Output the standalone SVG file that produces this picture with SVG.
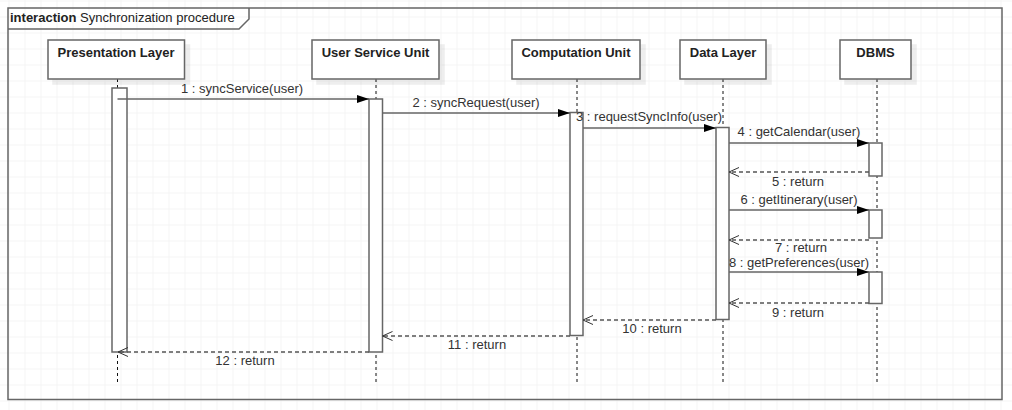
<svg xmlns="http://www.w3.org/2000/svg" width="1012" height="410" viewBox="0 0 1012 410">
<defs>
<pattern id="grid" x="8.5" y="0.5" width="16" height="16" patternUnits="userSpaceOnUse">
<path d="M0,0 H16 M0,0 V16" fill="none" stroke="#ececec" stroke-width="1"/>
</pattern>
<marker id="filled" markerUnits="userSpaceOnUse" markerWidth="14" markerHeight="10" refX="12" refY="4" orient="auto">
<path d="M0,0 L12,4 L0,8 z" fill="#000"/>
</marker>
<marker id="open" markerUnits="userSpaceOnUse" markerWidth="14" markerHeight="12" refX="11" refY="5" orient="auto">
<path d="M1,0.5 L11,5 L1,9.5" fill="none" stroke="#333" stroke-width="1"/>
</marker>
<filter id="sh" x="-10%" y="-10%" width="130%" height="140%">
<feOffset dx="5" dy="5" in="SourceAlpha"/>
<feComponentTransfer><feFuncA type="linear" slope="0.07"/></feComponentTransfer>
<feMerge><feMergeNode/><feMergeNode in="SourceGraphic"/></feMerge>
</filter>
</defs>
<style>
.hd{fill:#fff;stroke:#666;stroke-width:1.5}
.hdt{font-family:"Liberation Sans",Arial,sans-serif;font-size:13px;font-weight:bold;fill:#222;text-anchor:middle}
.life{stroke:#111;stroke-width:1;stroke-dasharray:3,3;fill:none}
.act{fill:#fff;stroke:#666;stroke-width:1.5}
.msg{stroke:#666;stroke-width:1.5;fill:none;marker-end:url(#filled)}
.ret{stroke:#555;stroke-width:1.5;stroke-dasharray:4,3;fill:none;marker-end:url(#open)}
.lbl{font-family:"Liberation Sans",Arial,sans-serif;font-size:13px;fill:#333;text-anchor:middle}
.frame{fill:none;stroke:#666;stroke-width:1.5}
</style>
<rect width="1012" height="410" fill="#fff"/>
<rect width="1012" height="410" fill="url(#grid)"/>
<g id="frame">
<rect class="frame" x="8" y="8" width="994" height="391.5"/>
<path class="frame" d="M8,29 H239 L249,19 V8"/>
<text x="10" y="22" font-family="Liberation Sans,Arial,sans-serif" font-size="13" fill="#222"><tspan font-weight="bold">interaction</tspan> Synchronization procedure</text>
</g>
<g id="presentation-layer">
<line class="life" x1="117.5" y1="79" x2="117.5" y2="382"/>
<rect class="hd" x="48" y="40" width="136.5" height="39" filter="url(#sh)"/>
<text class="hdt" x="116" y="57">Presentation Layer</text>
<rect class="act" x="112" y="88" width="15" height="264"/>
</g>
<g id="user-service-unit">
<line class="life" x1="376" y1="79" x2="376" y2="382"/>
<rect class="hd" x="312" y="40" width="127" height="39" filter="url(#sh)"/>
<text class="hdt" x="375.5" y="57">User Service Unit</text>
<rect class="act" x="369" y="99" width="13.5" height="253"/>
</g>
<g id="computation-unit">
<line class="life" x1="577" y1="79" x2="577" y2="382"/>
<rect class="hd" x="512" y="40" width="128" height="39" filter="url(#sh)"/>
<text class="hdt" x="576" y="57">Computation Unit</text>
<rect class="act" x="570" y="112.5" width="13" height="223"/>
</g>
<g id="data-layer">
<line class="life" x1="723" y1="79" x2="723" y2="382"/>
<rect class="hd" x="680" y="40" width="86" height="39" filter="url(#sh)"/>
<text class="hdt" x="723" y="57">Data Layer</text>
<rect class="act" x="716" y="127.5" width="13" height="192"/>
</g>
<g id="dbms">
<line class="life" x1="877" y1="79" x2="877" y2="382"/>
<rect class="hd" x="840" y="40" width="71" height="39" filter="url(#sh)"/>
<text class="hdt" x="875.5" y="57">DBMS</text>
<rect class="act" x="869" y="143" width="13" height="33"/>
<rect class="act" x="869" y="210" width="13" height="28"/>
<rect class="act" x="869" y="272" width="13" height="31.5"/>
</g>
<g id="connectors">
<line class="msg" x1="117.5" y1="99" x2="369" y2="99"/>
<text class="lbl" x="242" y="93">1 : syncService(user)</text>
<line class="msg" x1="382.5" y1="113" x2="570" y2="113"/>
<text class="lbl" x="476" y="107">2 : syncRequest(user)</text>
<line class="msg" x1="583" y1="128" x2="716" y2="128"/>
<text class="lbl" x="649" y="121">3 : requestSyncInfo(user)</text>
<line class="msg" x1="729" y1="143" x2="869" y2="143"/>
<text class="lbl" x="799" y="136">4 : getCalendar(user)</text>
<line class="ret" x1="869" y1="172" x2="729" y2="172"/>
<text class="lbl" x="798" y="186">5 : return</text>
<line class="msg" x1="729" y1="210" x2="869" y2="210"/>
<text class="lbl" x="799" y="204">6 : getItinerary(user)</text>
<line class="ret" x1="869" y1="240" x2="729" y2="240"/>
<text class="lbl" x="801" y="252">7 : return</text>
<line class="msg" x1="729" y1="272" x2="869" y2="272"/>
<text class="lbl" x="799" y="267">8 : getPreferences(user)</text>
<line class="ret" x1="869" y1="303" x2="729" y2="303"/>
<text class="lbl" x="798" y="317">9 : return</text>
<line class="ret" x1="716" y1="320" x2="583" y2="320"/>
<text class="lbl" x="652" y="333">10 : return</text>
<line class="ret" x1="570" y1="336" x2="382.5" y2="336"/>
<text class="lbl" x="477" y="349">11 : return</text>
<line class="ret" x1="369" y1="352" x2="118" y2="352"/>
<text class="lbl" x="245" y="365">12 : return</text>
</g>
</svg>
